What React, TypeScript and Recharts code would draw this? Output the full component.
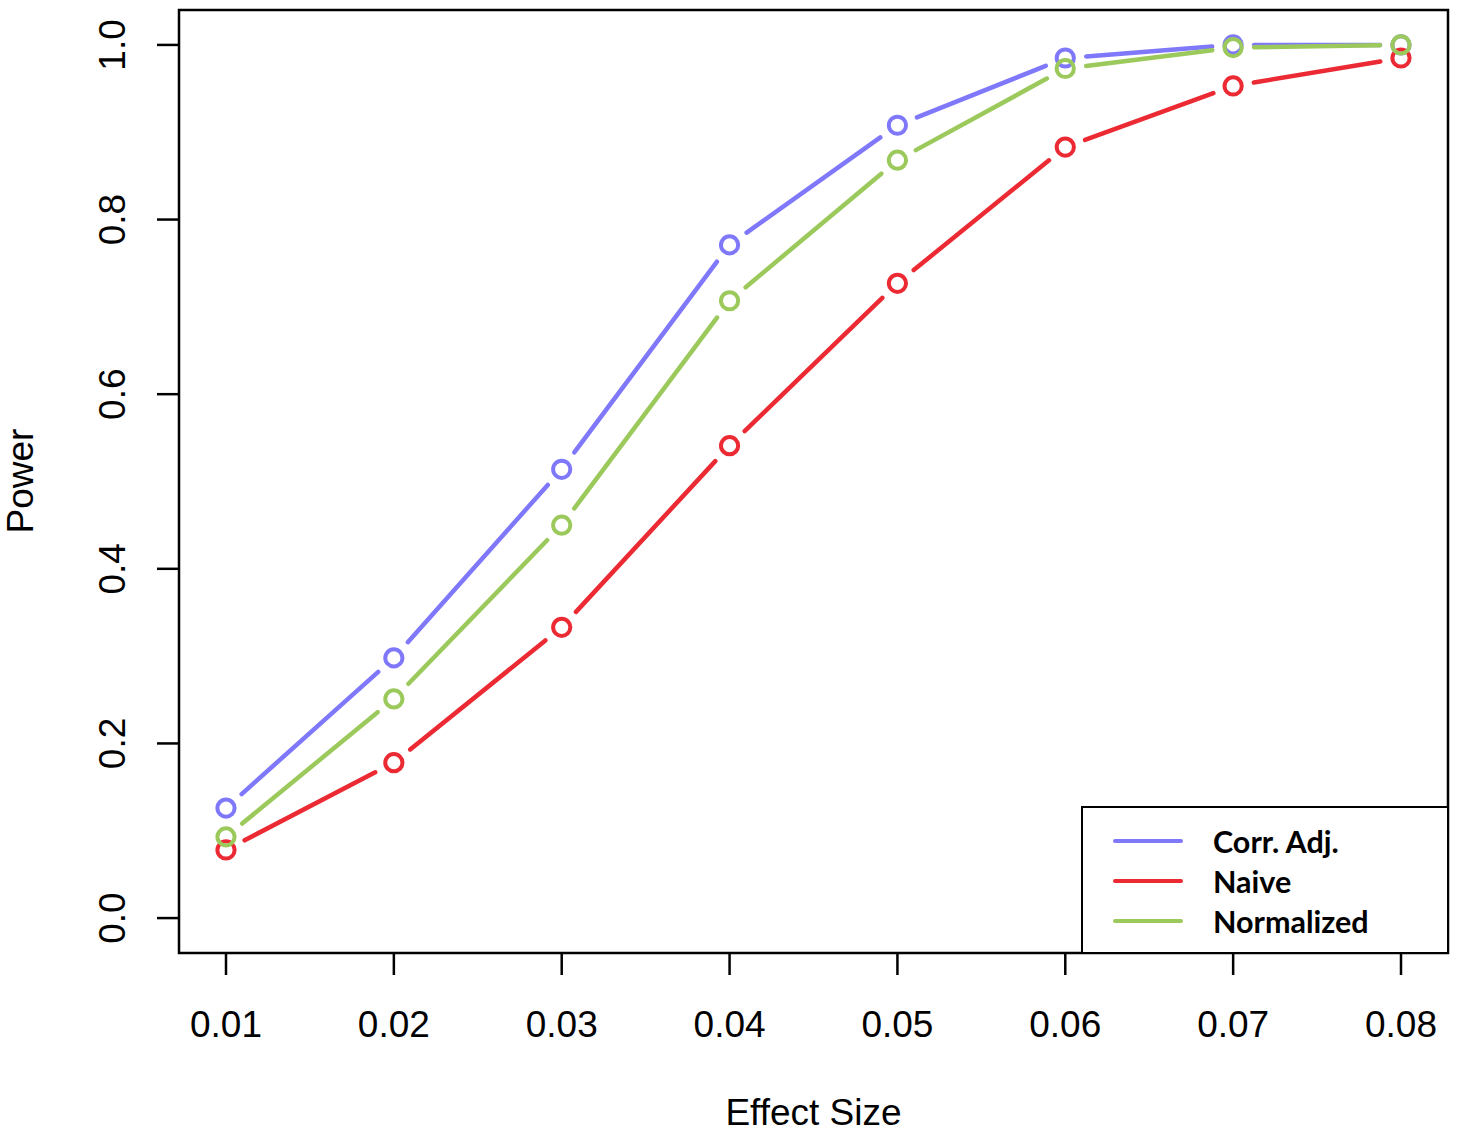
import React from 'react';
import { LineChart, Line, XAxis, YAxis, ReferenceArea } from 'recharts';

const effectSizes = [0.01, 0.02, 0.03, 0.04, 0.05, 0.06, 0.07, 0.08];
const corrAdj = [0.126, 0.298, 0.514, 0.771, 0.908, 0.985, 1.0, 1.0];
const naive = [0.078, 0.178, 0.333, 0.541, 0.727, 0.883, 0.953, 0.985];
const normalized = [0.093, 0.251, 0.45, 0.707, 0.868, 0.973, 0.997, 1.0];
const yTicks = [0, 0.2, 0.4, 0.6, 0.8, 1.0];

const series = [
  { key: 'corrAdj', name: 'Corr. Adj.', color: '#7F78FA' },
  { key: 'naive', name: 'Naive', color: '#EC2A33' },
  { key: 'normalized', name: 'Normalized', color: '#9CC95C' },
];

const data = effectSizes.map((x, i) => ({
  x,
  corrAdj: corrAdj[i],
  naive: naive[i],
  normalized: normalized[i],
}));

const axisFont = '"Liberation Sans", Arial, sans-serif';

// R type="b": hollow circle plus a segment to the next point, with a gap at each end
const makeDot = (color: string) => (props: any) => {
  const { cx, cy, index, points } = props;
  const next = points ? points[index + 1] : null;
  let seg = null;
  if (next) {
    const dx = next.x - cx;
    const dy = next.y - cy;
    const len = Math.hypot(dx, dy);
    const g = 21;
    if (len > 2 * g) {
      seg = (
        <line
          x1={cx + (dx / len) * g}
          y1={cy + (dy / len) * g}
          x2={next.x - (dx / len) * g}
          y2={next.y - (dy / len) * g}
          stroke={color}
          strokeWidth={4.5}
          strokeLinecap="round"
        />
      );
    }
  }
  return (
    <g key={`dot-${color}-${index}`}>
      {seg}
      <circle cx={cx} cy={cy} r={8.6} fill="none" stroke={color} strokeWidth={4} />
    </g>
  );
};

const XTick = (props: any) => {
  const { x, payload } = props;
  return (
    <text x={x} y={1037} textAnchor="middle" fontSize={37} fontFamily={axisFont} fill="#000">
      {payload.value.toFixed(2)}
    </text>
  );
};

const YTick = (props: any) => {
  const { y, payload } = props;
  const bx = 125;
  return (
    <text
      x={bx}
      y={y}
      textAnchor="middle"
      fontSize={37}
      fontFamily={axisFont}
      fill="#000"
      transform={`rotate(-90, ${bx}, ${y})`}
    >
      {payload.value.toFixed(1)}
    </text>
  );
};

const LegendBox = () => (
  <div
    style={{
      position: 'absolute',
      left: 1081,
      top: 806,
      width: 368,
      height: 148,
      border: '2.5px solid #000',
      boxSizing: 'border-box',
      background: '#fff',
    }}
  >
    {series.map((s, i) => (
      <div key={s.key} style={{ position: 'absolute', left: 0, top: 13 + i * 40, height: 40, display: 'flex', alignItems: 'center' }}>
        <div style={{ width: 70, height: 4.5, background: s.color, borderRadius: 2, marginLeft: 30 }} />
        <span
          style={{
            marginLeft: 30,
            fontFamily: 'Lato, "Open Sans", sans-serif',
            fontWeight: 700,
            fontSize: 30.5,
            color: '#000',
          }}
        >
          {s.name}
        </span>
      </div>
    ))}
  </div>
);

export default function App() {
  return (
    <div style={{ position: 'absolute', left: 0, top: 0, width: 1458, height: 1136, background: '#fff' }}>
      <LineChart width={1458} height={1136} data={data} margin={{ top: 10, right: 10, left: 0, bottom: 0 }}>
        <XAxis
          dataKey="x"
          type="number"
          domain={[0.0072, 0.0828]}
          ticks={effectSizes}
          axisLine={false}
          tickLine={{ stroke: '#000', strokeWidth: 2.5 }}
          tickSize={22}
          height={183}
          tick={<XTick />}
          label={{
            content: () => (
              <text x={813.5} y={1125} textAnchor="middle" fontSize={37} fontFamily={axisFont} fill="#000">
                Effect Size
              </text>
            ),
          }}
        />
        <YAxis
          type="number"
          domain={[-0.04, 1.04]}
          ticks={yTicks}
          axisLine={false}
          tickLine={{ stroke: '#000', strokeWidth: 2.5 }}
          tickSize={22}
          width={179}
          tick={<YTick />}
          label={{
            content: () => (
              <text
                x={33}
                y={481}
                textAnchor="middle"
                fontSize={37}
                fontFamily={axisFont}
                fill="#000"
                transform="rotate(-90, 33, 481)"
              >
                Power
              </text>
            ),
          }}
        />
        <ReferenceArea x1={0.0072} x2={0.0828} y1={-0.04} y2={1.04} fill="none" stroke="#000" strokeWidth={2.5} />
        {series.map((s) => (
          <Line
            key={s.key}
            dataKey={s.key}
            name={s.name}
            stroke="none"
            dot={makeDot(s.color)}
            activeDot={false}
            isAnimationActive={false}
          />
        ))}
      </LineChart>
      <LegendBox />
    </div>
  );
}
